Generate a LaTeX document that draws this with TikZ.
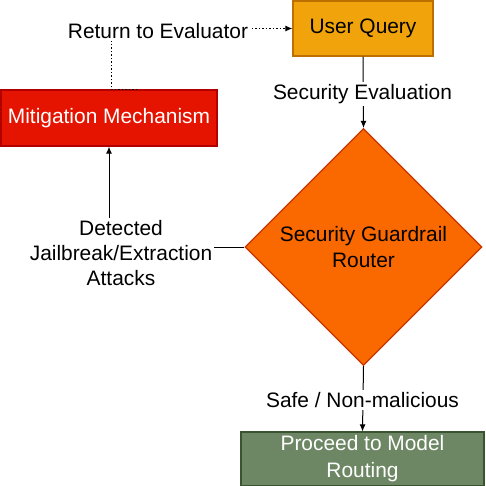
\documentclass[tikz,border=0pt]{standalone}
\usepackage{fontspec}
\setmainfont{Liberation Sans}
\usetikzlibrary{shapes.geometric,arrows.meta,calc}
\definecolor{uqfill}{HTML}{F0A30A}
\definecolor{uqdraw}{HTML}{BD7000}
\definecolor{mitfill}{HTML}{E51400}
\definecolor{mitdraw}{HTML}{B20000}
\definecolor{rtfill}{HTML}{FA6800}
\definecolor{rtdraw}{HTML}{C73500}
\definecolor{grfill}{HTML}{6D8764}
\definecolor{grdraw}{HTML}{3A5431}
\tikzset{
  every node/.style={font=\fontsize{20.9}{25}\selectfont},
  boxnode/.style={rectangle, draw, line width=1.2pt, inner sep=0pt, align=center},
  lbl/.style={fill=white, inner sep=2pt, align=center},
  conn/.style={line width=1pt, black, -{Latex[length=7pt,width=6pt]}},
  dotconn/.style={line width=1pt, black, dash pattern=on 1.5pt off 2pt, -{Latex[length=7pt,width=6pt]}}
}
\begin{document}
\begin{tikzpicture}[x=1pt,y=-1pt]
\useasboundingbox (0,0) rectangle (485,486);
\node[boxnode, fill=uqfill, draw=uqdraw, minimum width=140pt, minimum height=55pt] (uq) at (363,28.5) {User Query};
\node[boxnode, fill=mitfill, draw=mitdraw, text=white, minimum width=216pt, minimum height=56pt] (mit) at (109,118) {Mitigation Mechanism};
\node[diamond, draw=rtdraw, fill=rtfill, line width=1.2pt, inner sep=0pt, minimum width=237pt, minimum height=237pt, align=center, font=\fontsize{20.9}{26}\selectfont] (rt) at (363.5,247) {Security Guardrail\\Router};
\node[boxnode, fill=grfill, draw=grdraw, text=white, minimum width=243pt, minimum height=54pt, font=\fontsize{20.9}{27}\selectfont] (gr) at (362.5,459) {\raisebox{0pt}[0pt][0pt]{}Proceed to Model\\Routing};
% connectors
\draw[conn] (uq.south) -- (rt.north);
\draw[conn] (rt.west) -| (mit.south);
\draw[conn] (rt.south) -- (gr.north);
\coordinate (d0) at ($(mit.north)+(28,0)$);
\coordinate (d1) at ($(mit.north)+(2,0)$);
\draw[dotconn] (d0) -- (d1) |- (uq.west);
% labels
\node[lbl] (lse) at (362.5,94) {Security Evaluation};
\node[lbl] (ldet) at (121,253) {Detected\\Jailbreak/Extraction\\Attacks};
\node[lbl] (lsafe) at (362.5,400) {Safe / Non-malicious};
\node[lbl] (lret) at (158,31) {Return to Evaluator};
\end{tikzpicture}
\end{document}
